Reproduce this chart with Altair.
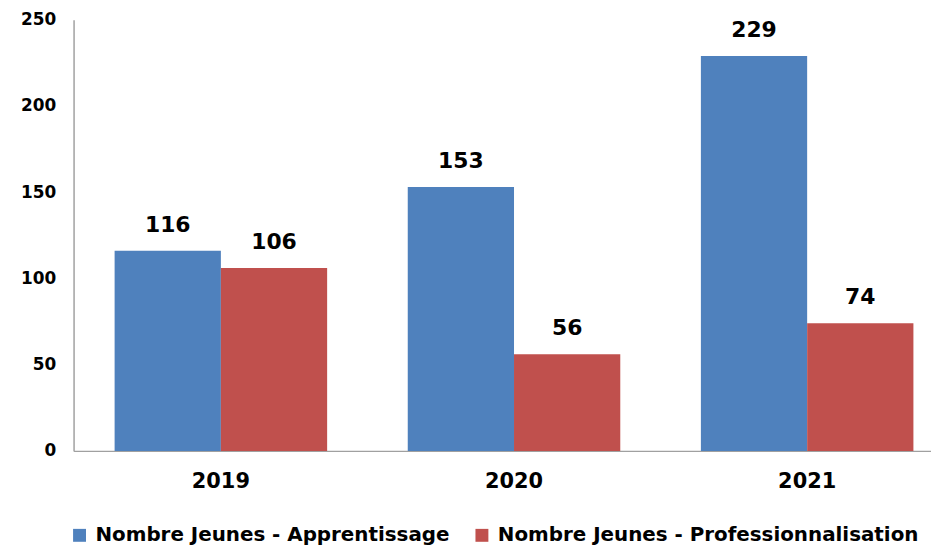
import altair as alt
import pandas as pd

years = ["2019", "2020", "2021"]
series = ["Nombre Jeunes - Apprentissage", "Nombre Jeunes - Professionnalisation"]
apprentissage = [116, 153, 229]
professionnalisation = [106, 56, 74]
colors = ["#4F81BD", "#C0504D"]

rows = []
for i, y in enumerate(years):
    rows.append({"year": y, "series": series[0], "value": apprentissage[i]})
    rows.append({"year": y, "series": series[1], "value": professionnalisation[i]})
df = pd.DataFrame(rows)

FONT = "DejaVu Sans"

x = alt.X("year:N", sort=years, title=None,
          scale=alt.Scale(paddingInner=0.275, paddingOuter=0.1, align=0.7),
          axis=alt.Axis(labelAngle=0, ticks=False, labelPadding=20, labelFontSize=21,
                        labelFontWeight="bold", labelFont=FONT, labelColor="#000000",
                        domainColor="#A0A0A0", domainWidth=1.5))
xo = alt.XOffset("series:N", sort=series)
y = alt.Y("value:Q", title=None,
          scale=alt.Scale(domain=[0, 250], nice=False),
          axis=alt.Axis(values=[0, 50, 100, 150, 200, 250], grid=False, ticks=False,
                        labelPadding=18, labelFontSize=17, labelFontWeight="bold",
                        labelFont=FONT, labelColor="#000000",
                        domainColor="#A0A0A0", domainWidth=1.5))

bars = alt.Chart(df).mark_bar().encode(
    x=x, xOffset=xo, y=y,
    color=alt.Color("series:N", sort=series,
                    scale=alt.Scale(domain=series, range=colors),
                    legend=alt.Legend(title=None, orient="none", direction="horizontal",
                                      legendX=-4, legendY=509, symbolType="square",
                                      symbolSize=169, symbolStrokeWidth=0,
                                      labelFontSize=20, labelFontWeight="bold",
                                      labelFont=FONT, labelColor="#000000", labelLimit=0,
                                      columnPadding=22, symbolOffset=0, labelOffset=6)),
)

text = alt.Chart(df).mark_text(dy=-14, baseline="bottom", fontSize=22,
                               fontWeight="bold", font=FONT, color="#000000").encode(
    x=x, xOffset=xo, y=y,
    text=alt.Text("value:Q"),
)

chart = alt.layer(bars, text).properties(
    width=863, height=434,
    autosize=alt.AutoSizeParams(type="none"),
    padding={"left": 66, "top": 10, "right": 0, "bottom": 97},
).configure_view(stroke=None)

chart.save("out.html", embed_options={"renderer": "svg", "actions": False})
